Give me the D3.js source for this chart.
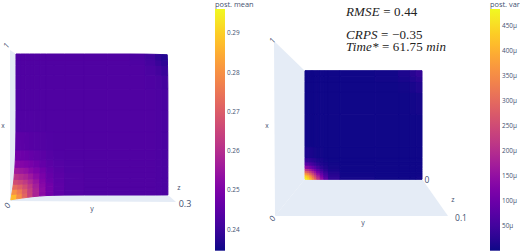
<!DOCTYPE html>
<html>
<head>
<meta charset="utf-8">
<script src="https://cdn.jsdelivr.net/npm/d3@7"></script>
<style>
html, body { margin: 0; padding: 0; background: #fff; }
svg { display: block; }
text { font-family: "Open Sans", sans-serif; fill: #3f5070; }
.math { font-family: "Liberation Serif", serif; fill: #222; font-size: 13px; letter-spacing: .15px; }
</style>
</head>
<body>
<script>
// node positions along each surface axis (0..1)
const meanAxis = [0, .03, .06, .09, .12, .16, .2, .25, .32, .45, .6, .75, .85, .92, .96, 1];
const varAxis = [0, .02, .04, .06, .08, .1, .13, .16, .2, .3, .6, .8, .9, .95, 1];

// post. mean, rows run from x=0 upwards, columns from y=0 to the right
const meanValues = [
  [.295, .285, .276, .268, .261, .254, .249, .246, .244, .2428, .2428, .2428, .2428, .2428, .2423, .2418],
  [.286, .281, .275, .268, .261, .255, .250, .246, .244, .2428, .2428, .2428, .2428, .2428, .2423, .2418],
  [.277, .275, .271, .266, .260, .255, .250, .246, .244, .2428, .2428, .2428, .2428, .2428, .2423, .2418],
  [.270, .269, .266, .263, .258, .253, .249, .246, .244, .2428, .2428, .2428, .2428, .2428, .2423, .2418],
  [.264, .263, .261, .259, .255, .252, .248, .245, .244, .2428, .2428, .2428, .2428, .2428, .2423, .2418],
  [.259, .258, .257, .255, .252, .250, .247, .245, .2435, .2428, .2428, .2428, .2428, .2428, .2423, .2418],
  [.254, .253, .252, .251, .249, .248, .246, .244, .2435, .2428, .2428, .2428, .2428, .2428, .2423, .2418],
  [.250, .249, .249, .248, .247, .246, .244, .2435, .243, .2428, .2428, .2428, .2428, .2428, .2423, .2418],
  [.246, .246, .245, .245, .244, .244, .2435, .243, .2428, .2428, .2428, .2428, .2428, .2428, .2423, .2418],
  [.2435, .2435, .2435, .2435, .243, .243, .2428, .2428, .2428, .2428, .2428, .2428, .2428, .2428, .2423, .2418],
  [.2428, .2428, .2428, .2428, .2428, .2428, .2428, .2428, .2428, .2428, .2428, .2428, .2428, .2428, .2423, .2418],
  [.2428, .2428, .2428, .2428, .2428, .2428, .2428, .2428, .2428, .2428, .2428, .2428, .2428, .2428, .2423, .2415],
  [.2428, .2428, .2428, .2428, .2428, .2428, .2428, .2428, .2428, .2428, .2428, .2428, .2428, .242, .241, .240],
  [.2428, .2428, .2428, .2428, .2428, .2428, .2428, .2428, .2428, .2428, .2428, .2428, .2428, .241, .240, .238],
  [.2428, .2428, .2428, .2428, .2428, .2428, .2428, .2428, .2428, .2428, .2428, .2428, .242, .240, .238, .237],
  [.2428, .2428, .2428, .2428, .2428, .2428, .2428, .2428, .2428, .2428, .2428, .2428, .2415, .239, .237, .235]
];

// post. var in units of 1e-6, same layout
const varValues = [
  [480, 470, 440, 390, 330, 270, 190, 120, 60, 12, 3, 3, 3, 4, 6],
  [470, 450, 410, 360, 300, 240, 165, 100, 48, 10, 3, 3, 3, 4, 6],
  [420, 400, 360, 310, 255, 200, 135, 80, 38, 8, 3, 3, 3, 3, 5],
  [340, 320, 285, 245, 200, 155, 100, 58, 27, 6, 3, 3, 3, 3, 4],
  [260, 245, 215, 185, 150, 115, 72, 40, 18, 5, 3, 3, 3, 3, 4],
  [185, 175, 155, 130, 105, 80, 48, 27, 12, 4, 3, 3, 3, 3, 3],
  [105, 100, 88, 74, 58, 44, 26, 14, 7, 3, 3, 3, 3, 3, 3],
  [55, 52, 46, 38, 30, 22, 13, 8, 5, 3, 3, 3, 3, 3, 3],
  [22, 20, 18, 15, 12, 9, 7, 5, 4, 3, 3, 3, 3, 3, 3],
  [6, 6, 5, 5, 4, 4, 3, 3, 3, 3, 3, 3, 3, 3, 3],
  [3, 3, 3, 3, 3, 3, 3, 3, 3, 3, 3, 3, 3, 3, 4],
  [3, 3, 3, 3, 3, 3, 3, 3, 3, 3, 3, 3, 5, 8, 12],
  [3, 3, 3, 3, 3, 3, 3, 3, 3, 3, 3, 5, 10, 16, 24],
  [3, 3, 3, 3, 3, 3, 3, 3, 3, 3, 3, 7, 14, 24, 34],
  [3, 3, 3, 3, 3, 3, 3, 3, 3, 3, 4, 9, 18, 30, 44]
];

const meanTicks = [.24, .25, .26, .27, .28, .29];
const varTicks = [50, 100, 150, 200, 250, 300, 350, 400, 450];
const meanRange = [.2345, .2961];
const varRange = [.6, 482];

const annotations = [
  {y: 16, parts: [['RMSE', 1], [' = 0.44', 0]]},
  {y: 39, parts: [['CRPS', 1], [' = \u22120.35', 0]]},
  {y: 51, parts: [['Time*', 1], [' = 61.75 ', 0], ['min', 1]]}
];

const svg = d3.select('body').append('svg')
  .attr('width', 520)
  .attr('height', 252);

const defs = svg.append('defs');

// the surfaces are a soft raster in the reference
defs.append('filter')
  .attr('id', 'soft')
  .attr('color-interpolation-filters', 'sRGB')
  .attr('x', '-2%').attr('y', '-2%').attr('width', '104%').attr('height', '104%')
  .append('feGaussianBlur')
  .attr('stdDeviation', .55);

function drawWalls(points) {
  points.forEach(p => {
    svg.append('polygon')
      .attr('points', p.map(d => d.join(',')).join(' '))
      .attr('fill', '#e5ecf6');
  });
}

// quads of the surface, k lifts the mesh towards the camera with its value
function drawSurface(axis, values, box, color, k, rest) {
  const yScale = d3.scaleLinear().domain([0, 1]).range([box.left, box.right]);
  const xScale = d3.scaleLinear().domain([0, 1]).range([box.bottom, box.top]);
  const cx = (box.left + box.right) / 2;
  const cy = (box.top + box.bottom) / 2;
  const project = (i, j) => {
    const s = 1 + k * (values[i][j] - rest);
    return [cx + (yScale(axis[j]) - cx) * s, cy + (xScale(axis[i]) - cy) * s];
  };
  const g = svg.append('g').attr('filter', 'url(#soft)');
  for (let i = 0; i < axis.length - 1; i++) {
    for (let j = 0; j < axis.length - 1; j++) {
      const v = d3.mean([values[i][j], values[i][j + 1], values[i + 1][j], values[i + 1][j + 1]]);
      const c = color(v);
      g.append('polygon')
        .attr('points', [project(i, j), project(i, j + 1), project(i + 1, j + 1), project(i + 1, j)]
          .map(d => d.join(',')).join(' '))
        .attr('fill', c)
        .attr('stroke', c)
        .attr('stroke-width', 1)
        .attr('stroke-linejoin', 'round');
    }
  }
}

function drawColorbar(id, left, color, range, ticks, format, title, titleX) {
  const y = d3.scaleLinear().domain(range).range([250.7, 9]);
  const grad = defs.append('linearGradient')
    .attr('id', id)
    .attr('x1', 0).attr('x2', 0).attr('y1', 1).attr('y2', 0);
  d3.range(0, 1.01, .05).forEach(t => {
    grad.append('stop')
      .attr('offset', t)
      .attr('stop-color', color(range[0] + t * (range[1] - range[0])));
  });
  svg.append('rect')
    .attr('x', left).attr('y', 9)
    .attr('width', 10).attr('height', 241.7)
    .attr('fill', `url(#${id})`);
  const axis = d3.axisRight(y).tickValues(ticks).tickSize(0).tickPadding(2).tickFormat(format);
  svg.append('g')
    .attr('transform', `translate(${left + 10},0)`)
    .call(axis)
    .call(g => g.select('.domain').remove())
    .call(g => g.selectAll('text').style('font-family', '"Open Sans", sans-serif').attr('font-size', 6.4).attr('fill', '#3f5070'));
  svg.append('text')
    .attr('x', titleX).attr('y', 6.5)
    .attr('font-size', 7.4)
    .text(title);
}

function label(x, y, s, size, rot) {
  svg.append('text')
    .attr('transform', `translate(${x},${y}) rotate(${rot || 0})`)
    .attr('text-anchor', 'middle')
    .attr('dominant-baseline', 'central')
    .attr('font-size', size)
    .text(s);
}

// left panel
const meanColor = d3.scaleSequential(d3.interpolatePlasma).domain(meanRange);
drawWalls([
  [[10, 50], [16, 54], [16, 195], [10, 201]],
  [[10, 201], [16, 195], [168, 195], [176, 202]]
]);
drawSurface(meanAxis, meanValues, {left: 16, right: 168, top: 54, bottom: 195}, meanColor, 1.3, .2428);
label(6, 45, '1', 8, -45);
label(3, 125, 'x', 6.5);
label(7, 205, '0', 8, -45);
label(92, 208, 'y', 7);
label(179, 187, 'z', 7);
label(185, 203, '0.3', 9);
drawColorbar('cb-mean', 215, meanColor, meanRange, meanTicks, d3.format('.2f'), 'post. mean', 215);

// right panel
const varColor = d3.scaleSequential(d3.interpolatePlasma).domain(varRange);
drawWalls([
  [[274, 41], [305, 71], [305, 179], [275, 216]],
  [[275, 216], [305, 179], [422, 179], [448, 216]]
]);
drawSurface(varAxis, varValues, {left: 305, right: 422, top: 70.7, bottom: 179.3}, varColor, 0, 0);
label(272, 40, '1', 8, -45);
label(267, 125, 'x', 6.5);
label(272, 218, '0', 8, -45);
label(363, 222, 'y', 7);
label(453, 199, 'z', 7);
label(461, 217, '0.1', 8.5);
label(427, 179, '0', 8.5);
drawColorbar('cb-var', 490, varColor, varRange, varTicks, d => `${d}\u00b5`, 'post. var', 490);

annotations.forEach(a => {
  const t = svg.append('text').attr('class', 'math').attr('x', 346).attr('y', a.y);
  a.parts.forEach(([s, italic]) => {
    t.append('tspan')
      .attr('font-style', italic ? 'italic' : 'normal')
      .text(s);
  });
});
</script>
</body>
</html>
